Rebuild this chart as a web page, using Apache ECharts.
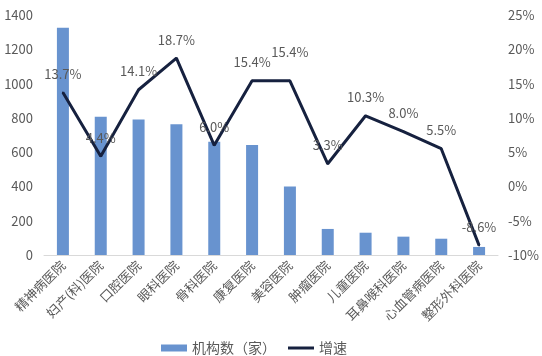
<!DOCTYPE html>
<html>
<head>
<meta charset="utf-8">
<script src="https://cdn.jsdelivr.net/npm/echarts@6/dist/echarts.min.js"></script>
<style>
html,body{margin:0;padding:0;background:#fff;}
#c{width:542px;height:356px;}
</style>
</head>
<body>
<div id="c"></div>
<script>
var categories = ['精神病医院','妇产(科)医院','口腔医院','眼科医院','骨科医院','康复医院','美容医院','肿瘤医院','儿童医院','耳鼻喉科医院','心血管病医院','整形外科医院'];
var counts = [1326, 807, 791, 762, 661, 642, 399, 152, 130, 107, 95, 47];
var growth = [13.7, 4.4, 14.1, 18.7, 6.0, 15.4, 15.4, 3.3, 10.3, 8.0, 5.5, -8.6];
var leftTicks = [0, 1400, 200];
var rightTicks = [-10, 25, 5];

var FONT = '"Noto Sans CJK SC", "Noto Sans", sans-serif';
var gray = '#595959';
var navy = '#16213f';

var baseLabel = {
  show: true, position: 'top', distance: 11, color: gray, fontSize: 13, fontFamily: FONT,
  formatter: function (p) { return Number(p.value).toFixed(1) + '%'; }
};
var growthData = growth.map(function (v, i) {
  var d = { value: v };
  if (i === 6) {
    d.label = Object.assign({}, baseLabel, { distance: 21, offset: [-2, 0] });
  }
  return d;
});

var chart = echarts.init(document.getElementById('c'));
chart.setOption({
  animation: false,
  textStyle: { fontFamily: FONT },
  grid: { left: 44, right: 44, top: 15, bottom: 101, containLabel: false },
  legend: {
    left: 156, top: 336,
    itemWidth: 26, itemHeight: 7, itemGap: 12,
    textStyle: { color: gray, fontSize: 14, fontFamily: FONT },
    data: [{ name: '机构数（家）', icon: 'rect' }, { name: '增速', icon: 'path://M0,0H26V3H0Z' }]
  },
  xAxis: {
    type: 'category',
    data: categories,
    axisLine: { lineStyle: { color: '#d9d9d9' } },
    axisTick: { show: false },
    axisLabel: { interval: 0, rotate: 45, color: gray, fontSize: 13, margin: 8, fontFamily: FONT }
  },
  yAxis: [{
    type: 'value', min: leftTicks[0], max: leftTicks[1], interval: leftTicks[2],
    splitLine: { show: false }, axisLine: { show: false }, axisTick: { show: false },
    axisLabel: { color: gray, fontSize: 13, margin: 11, fontFamily: FONT, formatter: function (v) { return String(v); } }
  }, {
    type: 'value', min: rightTicks[0], max: rightTicks[1], interval: rightTicks[2],
    splitLine: { show: false }, axisLine: { show: false }, axisTick: { show: false },
    axisLabel: { color: gray, fontSize: 13, margin: 10, formatter: '{value}%', fontFamily: FONT }
  }],
  series: [{
    name: '机构数（家）', type: 'bar', data: counts, barWidth: 12,
    itemStyle: { color: '#6893cf' }
  }, {
    name: '增速', type: 'line', yAxisIndex: 1, data: growthData,
    symbol: 'circle', symbolSize: 2, showSymbol: true,
    lineStyle: { color: navy, width: 3 }, itemStyle: { color: navy },
    label: baseLabel,
    labelLayout: { hideOverlap: false }
  }]
});
</script>
</body>
</html>
